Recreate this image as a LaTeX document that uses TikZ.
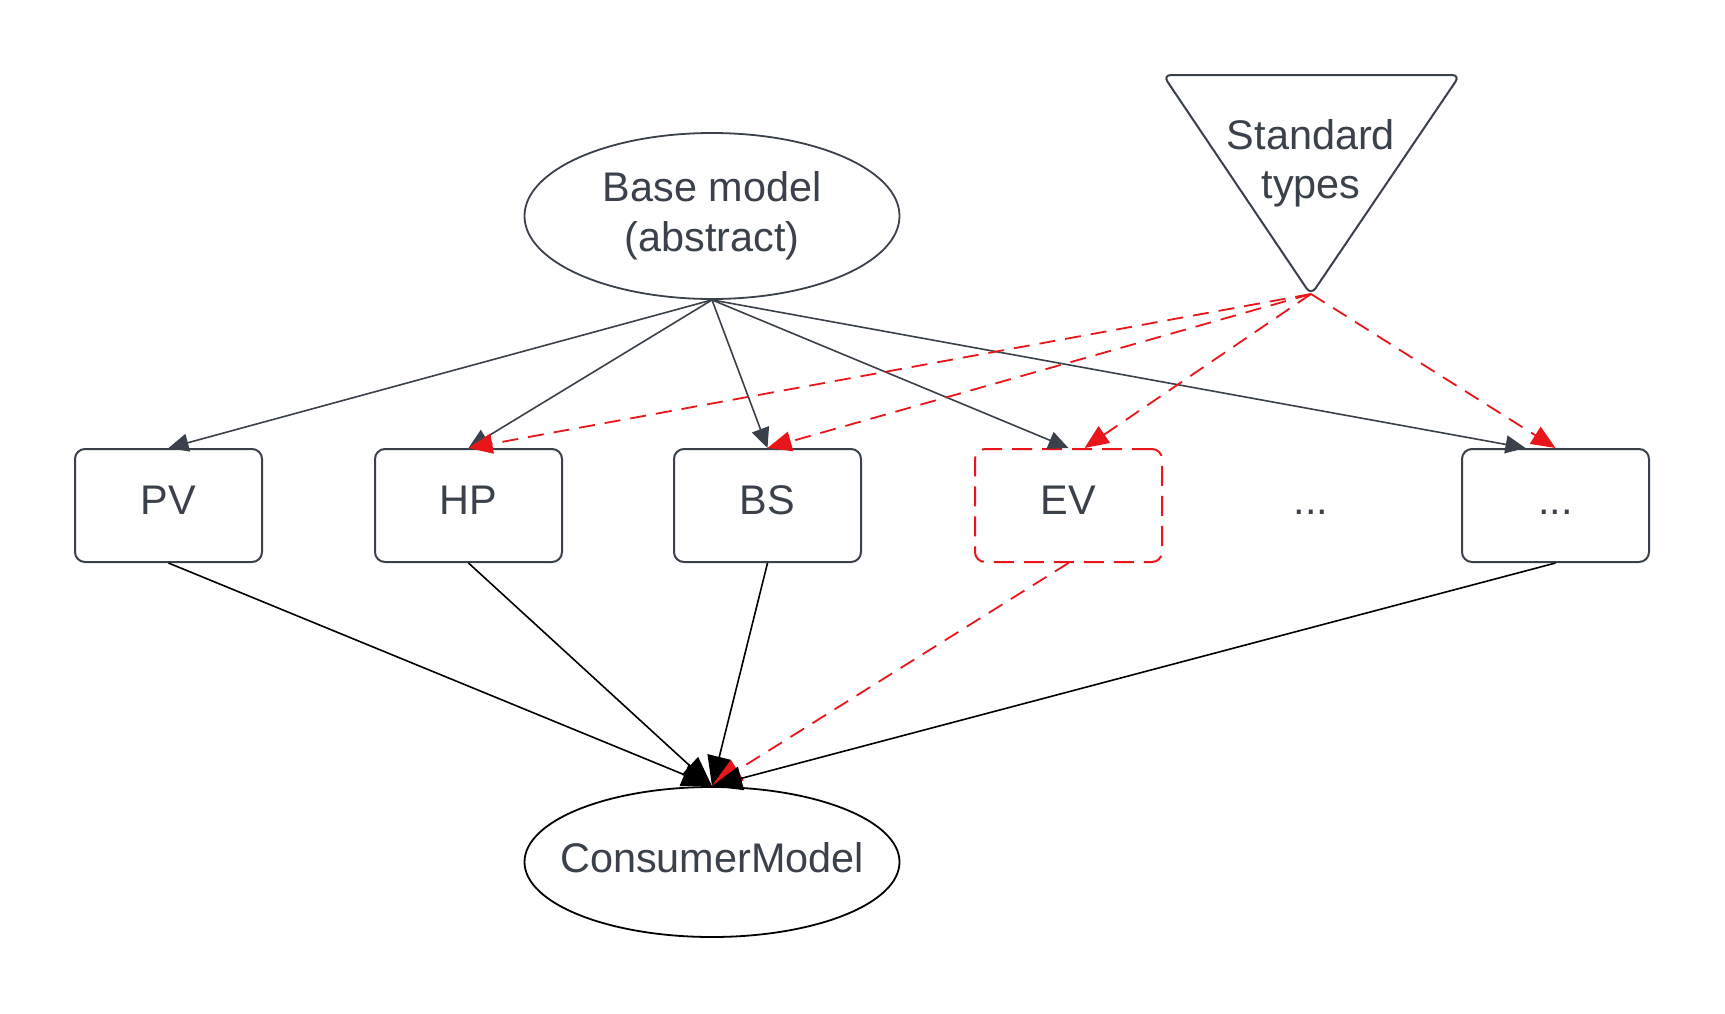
\documentclass[tikz,border=0pt]{standalone}
\usepackage{fontspec}
\setmainfont{Liberation Sans}
\usetikzlibrary{arrows.meta,shapes.geometric}
\definecolor{ink}{HTML}{3A414A}
\definecolor{redl}{HTML}{E8161A}
\tikzset{
  txt/.style={text=ink,font=\fontsize{20.7}{24.75}\selectfont},
  box/.style={txt,draw=ink,line width=1pt,rounded corners=5pt,minimum width=93.5pt,minimum height=56.5pt,inner sep=0pt,text height=14.8pt,text depth=0pt},
  evbox/.style={box,draw=redl,dash pattern=on 10pt off 5pt},
  oval/.style={txt,ellipse,draw=ink,line width=0.9pt,inner sep=0pt,align=center},
  toparrow/.style={draw=ink,line width=0.8pt,-{Triangle[length=10pt,width=9pt]}},
  botarrow/.style={draw=black,line width=0.8pt,-{Triangle[length=15pt,width=12pt]}},
  redarrow/.style={draw=redl,line width=0.9pt,dash pattern=on 8pt off 5pt,-{Triangle[length=12pt,width=10pt,fill=redl]}},
  redbot/.style={redarrow,-{Triangle[length=15pt,width=12pt,fill=redl]}},
}
\begin{document}
\begin{tikzpicture}[x=0.5pt,y=-0.5pt]
\useasboundingbox (0,0) rectangle (1725,1013);
\fill[white] (0,0) rectangle (1725,1013);
% base model
\node[oval,minimum width=187.5pt,minimum height=83pt] (base) at (712,216) {\makebox[0pt]{\raisebox{4.6pt}{\shortstack{Base model\\[7pt](abstract)}}}};
% consumer
\node[oval,draw=black,minimum width=187.5pt,minimum height=75pt] (cons) at (712,862) {\makebox[0pt]{\raisebox{4.8pt}{ConsumerModel}}};
% standard types triangle
\draw[ink,line width=1pt,rounded corners=4pt] (1163,75) -- (1460,75) -- (1311,295) -- cycle;
\coordinate (stdtip) at (1311,294);
\node[txt,align=center] (std) at (1311,163.5) {Standard\\types};
% boxes
\node[box] (pv) at (168.5,505.5) {\raisebox{3pt}{PV}};
\node[box] (hp) at (468.5,505.5) {\raisebox{3pt}{HP}};
\node[box] (bs) at (767.5,505.5) {\raisebox{3pt}{BS}};
\node[evbox] (ev) at (1068.5,505.5) {\raisebox{3pt}{EV}};
\node[box] (more) at (1555.5,505.5) {\raisebox{3pt}{...}};
\node[txt,inner sep=0pt,text height=14.8pt,text depth=0pt] (dots) at (1311,505.5) {\raisebox{3pt}{...}};
% base -> boxes
\draw[toparrow] (base.south) -- (pv.north);
\draw[toparrow] (base.south) -- (hp.north);
\draw[toparrow] (base.south) -- (bs.north);
\draw[toparrow] (base.south) -- (ev.north);
\draw[toparrow] (base.south) -- ([xshift=-15pt]more.north);
% standard types -> boxes
\draw[redarrow] (stdtip) -- (hp.north);
\draw[redarrow] (stdtip) -- (bs.north);
\draw[redarrow] (stdtip) -- ([xshift=8pt]ev.north);
\draw[redarrow] (stdtip) -- (more.north);
% boxes -> consumer
\draw[botarrow] (pv.south) -- (cons.north);
\draw[botarrow] (hp.south) -- (cons.north);
\draw[botarrow] (bs.south) -- (cons.north);
\draw[redbot] (ev.south) -- (cons.north);
\draw[botarrow] (more.south) -- (cons.north);
\end{tikzpicture}
\end{document}
